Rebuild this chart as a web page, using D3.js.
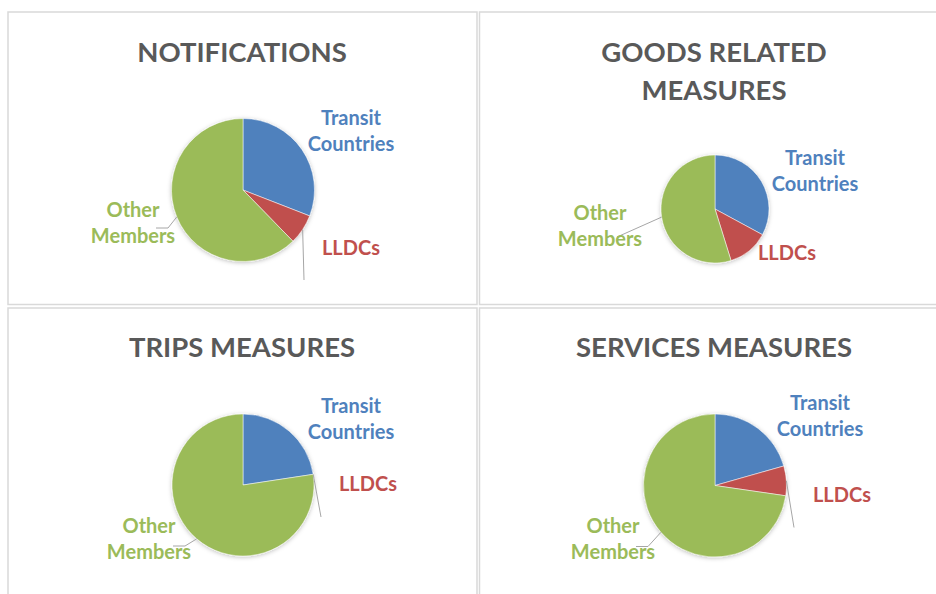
<!DOCTYPE html>
<html>
<head>
<meta charset="utf-8">
<script src="https://cdn.jsdelivr.net/npm/d3@7"></script>
<style>
  body { margin: 0; background: #fff; }
  text { font-family: Lato, "Open Sans", sans-serif; font-weight: bold; }
</style>
</head>
<body>
<div id="chart"></div>
<script>

const width = 936
const height = 594

// chart data (shares in %)
const categories = ["Transit Countries", "LLDCs", "Other Members"]
const titles = [["NOTIFICATIONS"], ["GOODS RELATED", "MEASURES"], ["TRIPS MEASURES"], ["SERVICES MEASURES"]]
const transitShare = [30.9, 32.9, 22.6, 20.6]
const lldcShare = [6.8, 12.3, 0, 6.7]
const otherShare = [62.3, 54.8, 77.4, 72.7]

const colors = ["#4f81bd", "#c0504d", "#9bbb59"]
const labelLines = [["Transit", "Countries"], ["LLDCs"], ["Other", "Members"]]

// layout of each panel: box, pie centre/radius, labels and leader lines (relative to pie centre)
const panels = [
    { box: [8, 12, 469, 292.5], titleX: 242, titleY: 62, cx: 243, cy: 190, r: 71.5,
      labels: [[108, -65], [108, 65], [-110, 27]],
      leaders: [null, [[61, 90]], [[-75, 38], [-87, 38]]] },
    { box: [479.5, 12, 470, 292.5], titleX: 714, titleY: 62, cx: 715, cy: 209, r: 54,
      labels: [[100, -44], [72, 51], [-115, 11]],
      leaders: [null, null, [[-98, 28]]] },
    { box: [8, 308, 469, 300], titleX: 242, titleY: 357, cx: 243, cy: 485, r: 71,
      labels: [[108, -72], [125, 6], [-94, 48]],
      leaders: [null, [[78, 32]], [[-58, 61], [-70, 61]]] },
    { box: [479.5, 308, 470, 300], titleX: 714, titleY: 357, cx: 715, cy: 485.5, r: 71.5,
      labels: [[105, -76], [127, 16], [-102, 47]],
      leaders: [null, [[79, 42]], [[-67, 61], [-79, 61]]] }
]

const svg = d3.select("#chart")
    .append("svg")
    .attr("width", width)
    .attr("height", height)

const defs = svg.append("defs")
defs.append("filter")
    .attr("id", "shadow")
    .attr("x", "-20%").attr("y", "-20%")
    .attr("width", "140%").attr("height", "140%")
    .append("feDropShadow")
    .attr("dx", 0).attr("dy", 1)
    .attr("stdDeviation", 2)
    .attr("flood-color", "#000")
    .attr("flood-opacity", 0.25)

const pie = d3.pie().sort(null).value(d => d.value)

panels.forEach((p, i) => {
    const data = categories.map((c, k) => ({
        name: c,
        value: [transitShare, lldcShare, otherShare][k][i]
    }))

    // panel frame
    svg.append("rect")
        .attr("x", p.box[0])
        .attr("y", p.box[1])
        .attr("width", p.box[2])
        .attr("height", p.box[3])
        .attr("fill", "none")
        .attr("stroke", "#d9d9d9")
        .attr("stroke-width", 1.5)

    // title
    svg.append("text")
        .attr("x", p.titleX)
        .attr("text-anchor", "middle")
        .attr("fill", "#595959")
        .style("font-size", "27.5px")
        .selectAll("tspan")
        .data(titles[i])
        .enter()
        .append("tspan")
        .attr("x", p.titleX)
        .attr("y", (d, j) => p.titleY + j * 38)
        .text(d => d)

    const arcs = pie(data)
    const arc = d3.arc().innerRadius(0).outerRadius(p.r)

    const g = svg.append("g")
        .attr("transform", "translate(" + p.cx + "," + p.cy + ")")

    g.append("g")
        .attr("filter", "url(#shadow)")
        .selectAll("path")
        .data(arcs.filter(a => a.value > 0))
        .enter()
        .append("path")
        .attr("d", arc)
        .attr("fill", d => colors[categories.indexOf(d.data.name)])
        .attr("stroke", "#fff")
        .attr("stroke-width", 0.5)

    // leader lines start at the slice's middle angle on the rim
    arcs.forEach((a, k) => {
        const pts = p.leaders[k]
        if (!pts) return
        const mid = (a.startAngle + a.endAngle) / 2
        const start = d3.pointRadial(mid, p.r)
        g.append("path")
            .attr("d", d3.line()([start].concat(pts)))
            .attr("fill", "none")
            .attr("stroke", "#a6a6a6")
            .attr("stroke-width", 1)
    })

    // data labels
    arcs.forEach((a, k) => {
        g.append("text")
            .attr("text-anchor", "middle")
            .attr("fill", colors[k])
            .style("font-size", "20px")
            .selectAll("tspan")
            .data(labelLines[k])
            .enter()
            .append("tspan")
            .attr("x", p.labels[k][0])
            .attr("y", (d, j) => p.labels[k][1] + j * 26)
            .text(d => d)
    })
})

</script>
</body>
</html>
